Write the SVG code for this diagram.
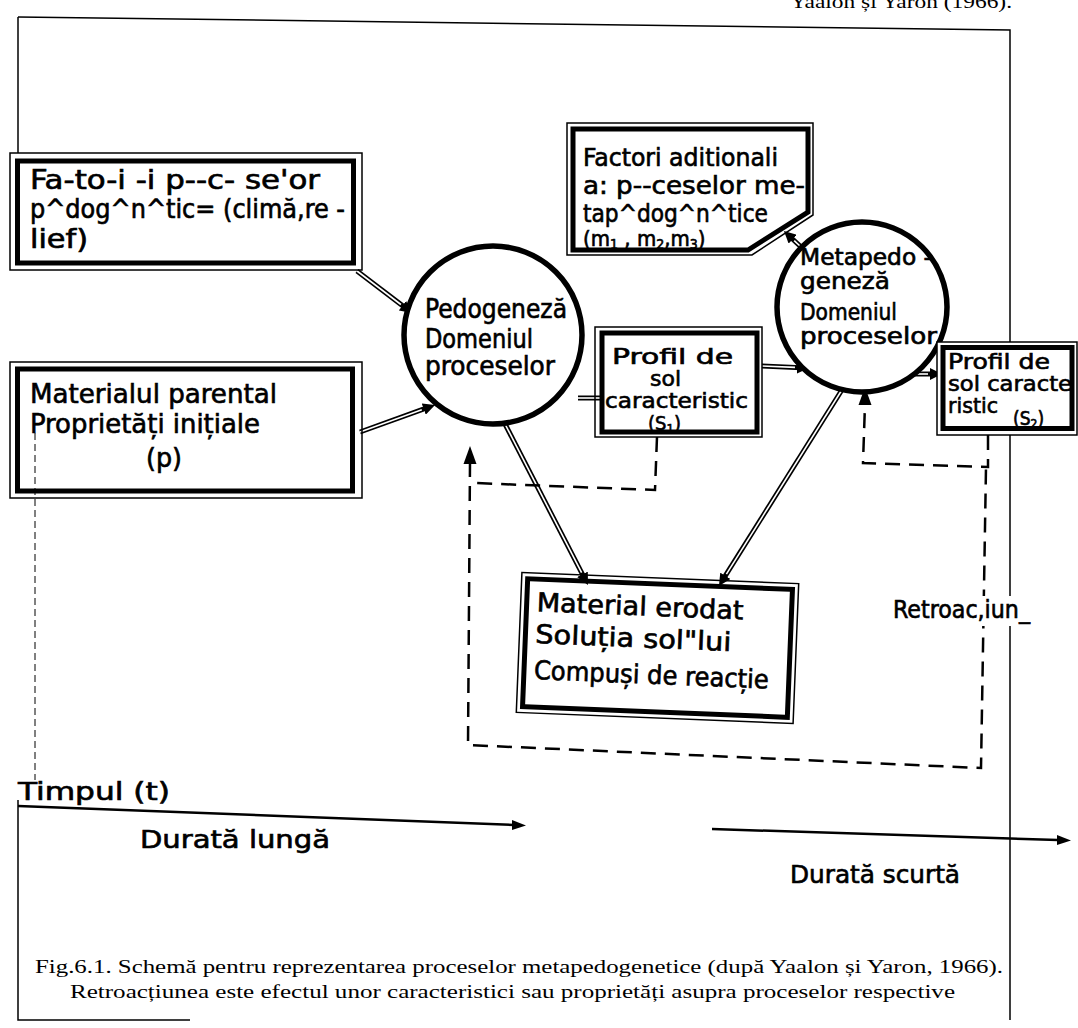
<svg xmlns="http://www.w3.org/2000/svg" width="1078" height="1028" viewBox="0 0 1078 1028">
  <defs>
    <marker id="head" markerUnits="userSpaceOnUse" markerWidth="14" markerHeight="12" refX="4" refY="6" orient="auto">
      <path d="M0,0 L12,6 L0,12 z" fill="#000"/>
    </marker>
    <style>
      .lbl { font-family: "DejaVu Sans Condensed", "DejaVu Sans", sans-serif; fill: #000; stroke: #000; stroke-width: 0.6; }
      .cap { font-family: "Liberation Serif", serif; fill: #000; font-size: 19px; }
      .thin { fill: none; stroke: #000; stroke-width: 1.5; }
      .thick { fill: none; stroke: #000; stroke-width: 5; }
      .ring { fill: #fff; stroke: #000; stroke-width: 5.5; }
      .dbl { stroke: #000; stroke-width: 5; fill: none; }
      .dbl-in { stroke: #fff; stroke-width: 1.6; fill: none; }
      .dash { stroke: #000; stroke-width: 2.5; fill: none; stroke-dasharray: 15 9; }
      .frame { stroke: #000; stroke-width: 1.5; fill: none; }
    </style>
  </defs>
  <rect width="1078" height="1028" fill="#fff"/>

  <!-- page frame and running head -->
  <g id="frame">
    <text class="cap" x="790" y="8" textLength="222" lengthAdjust="spacingAndGlyphs">Yaalon și Yaron (1966).</text>
    <path class="frame" d="M18,17 L1010,30 L1010,1020"/>
    <path class="frame" d="M18,17 L18,153"/>
    <path class="frame" d="M18,800 L18,1020 L190,1020"/>
    <path d="M35,433 L35,780" stroke="#000" stroke-width="1" stroke-dasharray="7 4" fill="none"/>
  </g>

  <!-- connectors -->
  <g id="connectors">
    <!-- double-line flow arrows -->
    <path class="dbl" d="M357,271 L405.6,308.1" marker-end="url(#head)"/>
    <path class="dbl-in" d="M357,271 L400.9,304.5"/>
    <path class="dbl" d="M360,432 L427.5,407.7" marker-end="url(#head)"/>
    <path class="dbl-in" d="M360,432 L421.8,409.7"/>
    <path class="dbl" d="M578,398 L602,398"/>
    <path class="dbl-in" d="M578,398 L602,398"/>
    <path class="dbl" d="M762,366 L801,367.7" marker-end="url(#head)"/>
    <path class="dbl-in" d="M762,366 L795,367.4"/>
    <path class="dbl" d="M505,424 L584.3,577.9" marker-end="url(#head)"/>
    <path class="dbl-in" d="M505,424 L581.6,572.6"/>
    <path class="dbl" d="M845,385 L723.2,579.2" marker-end="url(#head)"/>
    <path class="dbl-in" d="M845,385 L726.4,574.1"/>
    <path class="dbl" d="M910,374 L934,374" marker-end="url(#head)"/>
    <path class="dbl-in" d="M910,374 L928,374"/>
    <path class="dbl" d="M800,246 L789.8,236.5" marker-end="url(#head)"/>
    <path class="dbl-in" d="M800,246 L794.2,240.6"/>

    <!-- feedback (dashed) -->
    <path class="dash" d="M657,437 L655,490 L474,483"/>
    <path class="dash" d="M470,462 L468,745 L981,768 L986,467"/>
    <path d="M470,446 L463.5,464 L476.5,464 z" fill="#000"/>
    <path class="dash" d="M988,435 L988,467 L863,463 L865,404"/>
    <path d="M865,387 L858.5,405 L871.5,405 z" fill="#000"/>
    <rect x="893" y="596" width="140" height="30" fill="#fff"/>
    <text class="lbl" x="893" y="618" font-size="24" textLength="137" lengthAdjust="spacingAndGlyphs">Retroac,iun_</text>

    <!-- time axis -->
    <path d="M18,806 L514,825" stroke="#000" stroke-width="2.5" fill="none"/>
    <path d="M526,825.5 L512,820 L512,830 z" fill="#000"/>
    <path d="M712,829 L1058,840" stroke="#000" stroke-width="2.5" fill="none"/>
    <path d="M1071,840.5 L1057,835 L1057,845 z" fill="#000"/>
  </g>

  <!-- factors box -->
  <g id="n-factori">
    <rect class="thin" x="10" y="153" width="352" height="117"/>
    <rect class="thick" x="17.5" y="161" width="336" height="102"/>
    <text class="lbl" font-size="26">
      <tspan x="30" y="189" textLength="290" lengthAdjust="spacingAndGlyphs">Fa-to-i  -i p--c- se'or</tspan>
      <tspan x="30" y="218" textLength="315" lengthAdjust="spacingAndGlyphs">p^dog^n^tic= (climă,re -</tspan>
      <tspan x="30" y="248" textLength="58" lengthAdjust="spacingAndGlyphs">lief)</tspan>
    </text>
  </g>

  <!-- parent material box -->
  <g id="n-material-parental">
    <rect class="thin" x="10" y="362" width="352" height="136"/>
    <rect class="thick" x="17.5" y="369" width="335" height="122"/>
    <text class="lbl" font-size="27">
      <tspan x="30" y="403" textLength="247" lengthAdjust="spacingAndGlyphs">Materialul parental</tspan>
      <tspan x="30" y="433" textLength="230" lengthAdjust="spacingAndGlyphs">Proprietăți inițiale</tspan>
      <tspan x="146" y="467" textLength="36" lengthAdjust="spacingAndGlyphs">(p)</tspan>
    </text>
  </g>

  <!-- pedogenesis circle -->
  <g id="n-pedogeneza">
    <circle class="ring" cx="493" cy="335" r="89"/>
    <text class="lbl" font-size="26">
      <tspan x="425" y="318" textLength="142" lengthAdjust="spacingAndGlyphs">Pedogeneză</tspan>
      <tspan x="425" y="348" textLength="108" lengthAdjust="spacingAndGlyphs">Domeniul</tspan>
      <tspan x="425" y="375" textLength="130" lengthAdjust="spacingAndGlyphs">proceselor</tspan>
    </text>
  </g>

  <!-- soil profile S1 -->
  <g id="n-profil-s1">
    <rect class="thin" x="595" y="327" width="167" height="110"/>
    <rect class="thick" x="602" y="333" width="155" height="99"/>
    <text class="lbl" font-size="22">
      <tspan x="612" y="364" textLength="121" lengthAdjust="spacingAndGlyphs">Profil de</tspan>
      <tspan x="650" y="386" textLength="31" lengthAdjust="spacingAndGlyphs">sol</tspan>
      <tspan x="605" y="408" textLength="143" lengthAdjust="spacingAndGlyphs">caracteristic</tspan>
    </text>
    <text class="lbl" font-size="20" x="648" y="430">(S<tspan font-size="13" dy="3">1</tspan><tspan dy="-3">)</tspan></text>
  </g>

  <!-- additional factors box -->
  <g id="n-factori-aditionali">
    <path class="thin" d="M567,123 L813,123 L813,215 L752,255 L567,255 z"/>
    <path class="thick" d="M573,129 L808,129 L808,212 L748,250 L573,250 z"/>
    <text class="lbl" font-size="25">
      <tspan x="583" y="166" textLength="195" lengthAdjust="spacingAndGlyphs">Factori aditionali</tspan>
      <tspan x="583" y="194" textLength="222" lengthAdjust="spacingAndGlyphs">a: p--ceselor me-</tspan>
      <tspan x="583" y="222" textLength="185" lengthAdjust="spacingAndGlyphs">tap^dog^n^tice</tspan>
    </text>
    <text class="lbl" font-size="22" x="583" y="246">(m<tspan font-size="14" dy="3">1</tspan><tspan dy="-3"> , m</tspan><tspan font-size="14" dy="3">2</tspan><tspan dy="-3">,m</tspan><tspan font-size="14" dy="3">3</tspan><tspan dy="-3">)</tspan></text>
  </g>

  <!-- metapedogenesis circle -->
  <g id="n-metapedogeneza">
    <circle class="ring" cx="862" cy="307" r="85"/>
    <text class="lbl" font-size="23">
      <tspan x="800" y="265" textLength="132" lengthAdjust="spacingAndGlyphs">Metapedo -</tspan>
      <tspan x="800" y="289" textLength="90" lengthAdjust="spacingAndGlyphs">geneză</tspan>
      <tspan x="800" y="320" textLength="97" lengthAdjust="spacingAndGlyphs">Domeniul</tspan>
      <tspan x="800" y="344" textLength="137" lengthAdjust="spacingAndGlyphs">proceselor</tspan>
    </text>
  </g>

  <!-- soil profile S2 -->
  <g id="n-profil-s2">
    <rect x="937" y="342" width="140" height="93" fill="#fff" stroke="#000" stroke-width="1.5"/>
    <rect class="thick" x="943" y="347.5" width="129" height="81"/>
    <text class="lbl" font-size="22">
      <tspan x="948" y="369" textLength="102" lengthAdjust="spacingAndGlyphs">Profil de</tspan>
      <tspan x="948" y="391" textLength="124" lengthAdjust="spacingAndGlyphs">sol caracte</tspan>
      <tspan x="948" y="413" textLength="50" lengthAdjust="spacingAndGlyphs">ristic</tspan>
    </text>
    <text class="lbl" font-size="19" x="1013" y="425">(S<tspan font-size="12" dy="3">2</tspan><tspan dy="-3">)</tspan></text>
  </g>

  <!-- eroded material box -->
  <g id="n-material-erodat" transform="rotate(2.3 657 648)">
    <rect class="thin" x="519" y="578" width="277" height="140"/>
    <rect class="thick" x="525" y="584" width="265" height="128"/>
    <text class="lbl" font-size="26">
      <tspan x="535" y="616" textLength="207" lengthAdjust="spacingAndGlyphs">Material erodat</tspan>
      <tspan x="535" y="648" textLength="196" lengthAdjust="spacingAndGlyphs">Soluția sol"lui</tspan>
      <tspan x="535" y="684" textLength="235" lengthAdjust="spacingAndGlyphs">Compuși de reacție</tspan>
    </text>
  </g>

  <!-- time axis labels -->
  <g id="n-timp">
    <text class="lbl" font-size="25" x="18" y="800" textLength="152" lengthAdjust="spacingAndGlyphs">Timpul (t)</text>
    <text class="lbl" font-size="25" x="140" y="848" textLength="190" lengthAdjust="spacingAndGlyphs">Durată  lungă</text>
    <text class="lbl" font-size="25" x="790" y="883" textLength="170" lengthAdjust="spacingAndGlyphs">Durată scurtă</text>
  </g>

  <!-- caption -->
  <g id="caption">
    <text class="cap" x="35" y="973" textLength="968" lengthAdjust="spacingAndGlyphs">Fig.6.1. Schemă pentru reprezentarea proceselor metapedogenetice (după Yaalon și Yaron, 1966).</text>
    <text class="cap" x="70" y="998" textLength="885" lengthAdjust="spacingAndGlyphs">Retroacțiunea este efectul unor caracteristici sau proprietăți asupra proceselor respective</text>
  </g>
</svg>
